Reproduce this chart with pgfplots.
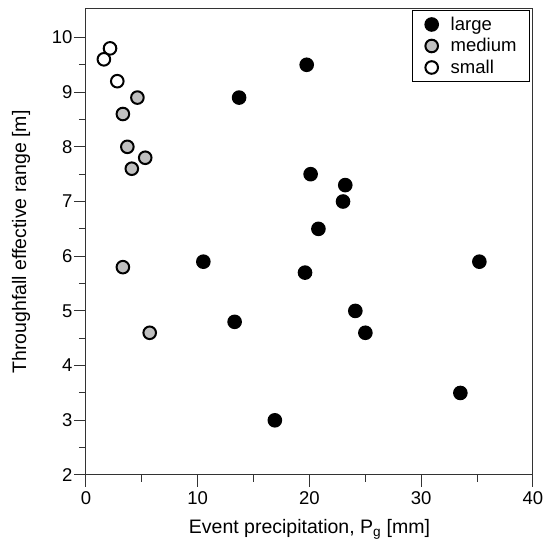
\documentclass[border=0pt]{standalone}
\usepackage{fontspec}
\setmainfont{Liberation Sans}
\usepackage{pgfplots}
\pgfplotsset{compat=1.18}
\definecolor{medgray}{RGB}{192,192,192}
\pgfplotsset{
    dotlegend/.style={legend image code/.code={%
        \draw[##1] plot coordinates {(0pt,0pt)};
        \path[draw=none, fill=none] (-7pt,-10pt) rectangle (18pt,10pt);}},
}
\begin{document}
\begin{tikzpicture}
\useasboundingbox (-86pt,-65pt) rectangle (458pt,475pt);
\begin{axis}[
    at={(0,0)}, anchor=south west,
    scale only axis,
    width=447pt, height=466pt,
    xmin=0, xmax=40,
    ymin=2, ymax=10.52,
    xtick={0,10,20,30,40},
    ytick={2,3,4,5,6,7,8,9,10},
    minor x tick num=1,
    minor y tick num=1,
    tick align=outside,
    xtick pos=bottom, ytick pos=left,
    major tick length=12pt,
    minor tick length=7pt,
    axis line style={line width=1pt, black!80},
    every tick/.style={line width=1pt, black!80},
    /pgf/number format/assume math mode=true,
    ticklabel style={font=\fontsize{18.5}{22}\selectfont},
    xticklabel style={yshift=-1pt},
    yticklabel style={xshift=2pt},
    xlabel={Event precipitation, P\textsubscript{g} [mm]},
    ylabel={Throughfall effective range [m]},
    label style={font=\fontsize{19.5}{23}\selectfont},
    xlabel style={at={(axis description cs:0.5,-0.125)}, anchor=base},
    ylabel style={at={(axis description cs:-0.1454,0.5)}, anchor=center},
    legend style={at={(1,1)}, anchor=north east, xshift=-3pt, yshift=-1pt,
        draw=black, line width=1pt,
        font=\fontsize{18.5}{22}\selectfont,
        inner xsep=12pt, inner ysep=4pt,
        row sep=1.5pt, column sep=0pt,
        nodes={inner sep=1pt}},
    legend cell align=left,
]
\addplot[only marks, mark=*, mark size=6.3pt, dotlegend,
    mark options={draw=black, fill=black, line width=2pt}]
coordinates {
(19.75,9.5) (13.7,8.9) (20.1,7.5) (23.2,7.3) (23.0,7.0) (20.8,6.5)
(10.5,5.9) (19.6,5.7) (24.1,5.0) (25.0,4.6) (13.3,4.8) (16.9,3.0)
(35.2,5.9) (33.5,3.5)
};
\addlegendentry{large}
\addplot[only marks, mark=*, mark size=6.3pt, dotlegend,
    mark options={draw=black, fill=medgray, line width=2pt}]
coordinates {
(4.6,8.9) (3.3,8.6) (3.7,8.0) (5.3,7.8) (4.1,7.6) (3.3,5.8) (5.7,4.6)
};
\addlegendentry{medium}
\addplot[only marks, mark=*, mark size=6.3pt, dotlegend,
    mark options={draw=black, fill=white, line width=2pt}]
coordinates {
(2.15,9.8) (1.6,9.6) (2.8,9.2)
};
\addlegendentry{small}
\end{axis}
\end{tikzpicture}
\end{document}
